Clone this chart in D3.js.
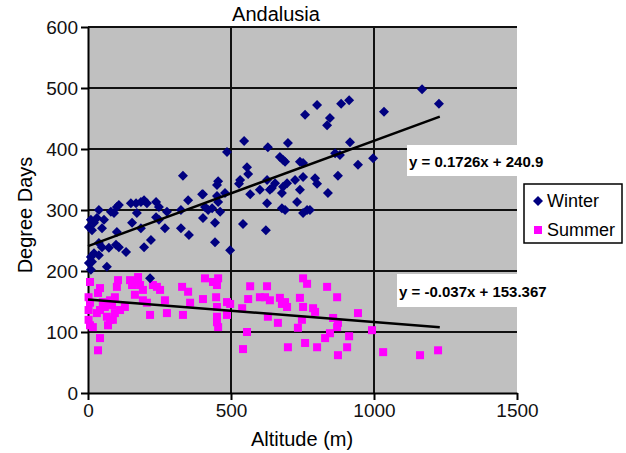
<!DOCTYPE html>
<html>
<head>
<meta charset="utf-8">
<script src="https://cdn.jsdelivr.net/npm/d3@7"></script>
<style>
  body { margin: 0; background: #fff; }
  text { font-family: "Liberation Sans", Arial, sans-serif; }
</style>
</head>
<body>
<div id="chart"></div>
<script>
// altitude (m) / degree days
var winterAlt = [3, 14, 10, 21, 38, 10, 66, 38, 49, 73, 98, 108, 133, 3, 14, 10, 21, 56, 49, 31,
  38, 80, 91, 101, 108, 150, 168, 185, 196, 206, 238, 248, 171, 276, 325, 154, 238, 248, 185, 101,
  269, 325, 353, 220, 196, 217, 332, 399, 350, 402, 444, 444, 497, 542, 622, 486, 546, 629, 699, 671,
  682, 689, 741, 752, 556, 560, 532, 528, 455, 451, 752, 794, 801, 626, 654, 643, 636, 696, 682, 724,
  601, 567, 678, 741, 402, 479, 451, 455, 434, 409, 420, 626, 731, 678, 689, 766, 752, 462, 759, 801,
  885, 913, 846, 836, 1035, 1168, 1227, 916, 864, 881, 997, 944, 874, 839, 776];
var winterDD = [213, 215, 223, 229, 226, 202, 207, 246, 239, 238, 243, 239, 231, 272, 267, 284, 279, 284, 270, 287,
  300, 297, 295, 305, 308, 311, 311, 313, 316, 311, 313, 305, 295, 297, 300, 279, 288, 284, 270, 264,
  270, 270, 259, 251, 239, 188, 356, 326, 316, 287, 279, 247, 234, 277, 267, 395, 413, 403, 410, 387,
  382, 379, 379, 377, 370, 359, 349, 343, 347, 341, 354, 352, 343, 349, 344, 336, 333, 344, 338, 349,
  333, 326, 328, 333, 326, 328, 323, 313, 303, 305, 300, 311, 313, 303, 300, 300, 295, 297, 456, 472,
  474, 480, 451, 439, 461, 498, 474, 411, 393, 390, 385, 374, 356, 328, 300];

var summerAlt = [7, 2, 7, 42, 35, 52, 59, 2, 2, 7, 17, 31, 42, 77, 84, 94, 105, 101, 66, 77,
  70, 87, 94, 112, 129, 42, 35, 147, 154, 171, 175, 182, 192, 164, 192, 206, 217, 227, 241, 252,
  269, 276, 329, 350, 357, 332, 409, 437, 455, 451, 402, 448, 451, 451, 451, 455, 486, 497, 486, 539,
  556, 542, 567, 560, 626, 601, 619, 636, 629, 671, 678, 689, 696, 664, 699, 741, 752, 752, 766, 748,
  734, 787, 794, 759, 801, 836, 871, 857, 874, 871, 944, 993, 846, 829, 913, 906, 874, 1032, 1161, 1224];
var summerDD = [182, 157, 148, 172, 164, 149, 141, 136, 120, 111, 108, 131, 136, 152, 144, 157, 185, 174, 125, 120,
  111, 120, 131, 136, 141, 90, 70, 185, 177, 182, 190, 177, 169, 161, 152, 148, 128, 177, 174, 169,
  152, 131, 174, 166, 148, 128, 188, 182, 188, 177, 154, 157, 141, 125, 116, 108, 149, 146, 128, 139,
  100, 72, 175, 154, 175, 157, 157, 152, 125, 156, 146, 149, 141, 115, 75, 156, 141, 188, 179, 120,
  107, 139, 133, 82, 75, 174, 157, 123, 115, 108, 131, 103, 98, 90, 93, 75, 62, 67, 62, 70];

var xTicks = [0, 500, 1000, 1500];
var yTicks = [0, 100, 200, 300, 400, 500, 600];
// linear trend: [slope, intercept], fitted range
var winterFit = [0.1726, 240.9];
var summerFit = [-0.037, 153.367];
var fitRange = [0, 1230];

var width = 626, height = 453;

var svg = d3.select("#chart").append("svg")
  .attr("width", width)
  .attr("height", height);

var x = d3.scaleLinear().domain([0, 1500]).range([88, 517]);
var y = d3.scaleLinear().domain([0, 600]).range([393, 27]);

// plot area
svg.append("rect")
  .attr("x", x(0)).attr("y", y(600))
  .attr("width", x(1500) - x(0)).attr("height", y(0) - y(600))
  .attr("fill", "#c0c0c0");

// grid
svg.append("g").selectAll("line")
  .data(yTicks.slice(1))
  .enter().append("line")
  .attr("x1", x(0)).attr("x2", x(1500))
  .attr("y1", function (d) { return y(d); })
  .attr("y2", function (d) { return y(d); })
  .attr("stroke", "#111").attr("stroke-width", 2);

svg.append("g").selectAll("line")
  .data(xTicks.slice(1, 3))
  .enter().append("line")
  .attr("x1", function (d) { return x(d); })
  .attr("x2", function (d) { return x(d); })
  .attr("y1", y(0)).attr("y2", y(600))
  .attr("stroke", "#111").attr("stroke-width", 2);

// axes
var xAxis = svg.append("g")
  .attr("transform", "translate(0," + y(0) + ")")
  .call(d3.axisBottom(x).tickValues(xTicks).tickFormat(d3.format("d"))
    .tickSize(7).tickPadding(4).tickSizeOuter(0));
var yAxis = svg.append("g")
  .attr("transform", "translate(" + x(0) + ",0)")
  .call(d3.axisLeft(y).tickValues(yTicks).tickFormat(d3.format("d"))
    .tickSize(7).tickPadding(3).tickSizeOuter(0));

[xAxis, yAxis].forEach(function (a) {
  a.select(".domain").attr("stroke", "#000").attr("stroke-width", 2);
  a.selectAll(".tick line").attr("stroke", "#000").attr("stroke-width", 2);
  a.selectAll(".tick text")
    .attr("fill", "#111")
    .style("font-size", "19px")
    .style("font-family", "'Liberation Sans', Arial, sans-serif");
});

// points
var winter = winterAlt.map(function (a, i) { return [a, winterDD[i]]; });
var summer = summerAlt.map(function (a, i) { return [a, summerDD[i]]; });

svg.append("g").selectAll("rect")
  .data(summer)
  .enter().append("rect")
  .attr("x", function (d) { return x(d[0]) - 4; })
  .attr("y", function (d) { return y(d[1]) - 4; })
  .attr("width", 8).attr("height", 8)
  .attr("fill", "#ff00ff");

var diamond = "M0,-5L5,0L0,5L-5,0Z";
svg.append("g").selectAll("path")
  .data(winter)
  .enter().append("path")
  .attr("d", diamond)
  .attr("transform", function (d) { return "translate(" + x(d[0]) + "," + y(d[1]) + ")"; })
  .attr("fill", "#000080");

// trend lines
var line = d3.line()
  .x(function (d) { return x(d[0]); })
  .y(function (d) { return y(d[1]); });

[winterFit, summerFit].forEach(function (f) {
  svg.append("path")
    .datum(fitRange.map(function (a) { return [a, f[0] * a + f[1]]; }))
    .attr("d", line)
    .attr("fill", "none")
    .attr("stroke", "#000")
    .attr("stroke-width", 2.5);
});

// equation labels
var eqs = [
  { text: "y = 0.1726x + 240.9", x: 407, y: 145, w: 142, h: 31 },
  { text: "y = -0.037x + 153.367", x: 397, y: 274, w: 156, h: 33 }
];
eqs.forEach(function (e) {
  svg.append("rect")
    .attr("x", e.x).attr("y", e.y)
    .attr("width", e.w).attr("height", e.h)
    .attr("fill", "#fff");
  svg.append("text")
    .attr("x", e.x + 2).attr("y", e.y + e.h / 2 + 6)
    .style("font-size", "15px")
    .style("font-weight", "bold")
    .text(e.text);
});

// title and axis titles
svg.append("text")
  .attr("x", 276).attr("y", 21)
  .attr("text-anchor", "middle")
  .style("font-size", "20px")
  .text("Andalusia");

svg.append("text")
  .attr("x", 302).attr("y", 446)
  .attr("text-anchor", "middle")
  .style("font-size", "20px")
  .text("Altitude (m)");

svg.append("text")
  .attr("transform", "translate(32,215) rotate(-90)")
  .attr("text-anchor", "middle")
  .style("font-size", "20px")
  .text("Degree Days");

// legend
var lg = svg.append("g").attr("transform", "translate(524,184)");
lg.append("rect")
  .attr("width", 98).attr("height", 59)
  .attr("fill", "#fff")
  .attr("stroke", "#000").attr("stroke-width", 1.5);
lg.append("path")
  .attr("d", diamond)
  .attr("transform", "translate(14,17)")
  .attr("fill", "#000080");
lg.append("text").attr("x", 23).attr("y", 23).style("font-size", "18px").text("Winter");
lg.append("rect")
  .attr("x", 10).attr("y", 42).attr("width", 8).attr("height", 8)
  .attr("fill", "#ff00ff");
lg.append("text").attr("x", 23).attr("y", 52).style("font-size", "18px").text("Summer");
</script>
</body>
</html>
